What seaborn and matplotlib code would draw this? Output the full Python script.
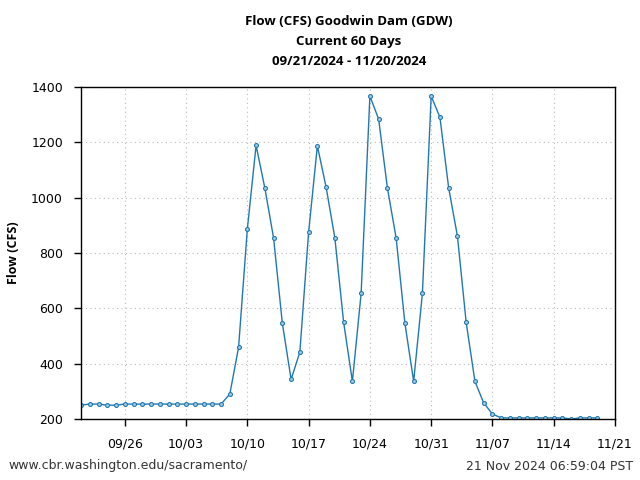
import matplotlib
matplotlib.use("Agg")
import matplotlib.pyplot as plt
import matplotlib.dates as mdates
import seaborn as sns
import pandas as pd
import numpy as np

start_date = "2024-09-21"
flow_cfs = [
    250, 254, 254, 250, 250, 254, 254, 254, 254, 254,
    254, 254, 254, 254, 254, 254, 254, 290, 459, 886,
    1189, 1035, 854, 546, 343, 442, 875, 1187, 1038, 854,
    550, 336, 654, 1367, 1284, 1035, 854, 546, 336, 654,
    1367, 1291, 1035, 861, 549, 336, 258, 218, 204, 204,
    204, 204, 204, 204, 204, 204, 200, 204, 204, 204,
]
dates = pd.date_range(start_date, periods=len(flow_cfs), freq="D")
df = pd.DataFrame({"date": dates, "flow": flow_cfs})

tick_dates = pd.to_datetime(["2024-09-26", "2024-10-03", "2024-10-10", "2024-10-17",
                             "2024-10-24", "2024-10-31", "2024-11-07", "2024-11-14", "2024-11-21"])
y_ticks = [200, 400, 600, 800, 1000, 1200, 1400]

sns.set_style("white")
plt.rcParams['font.family'] = ['DejaVu Sans']
plt.rcParams['text.color'] = 'black'
plt.rcParams['axes.labelcolor'] = 'black'

fig = plt.figure(figsize=(6.4, 4.8), dpi=100)
ax = fig.add_axes([81/640, 1-419/480, (615-81)/640, (419-87)/480])

line_color = "#1f78b4"
sns.lineplot(data=df, x="date", y="flow", ax=ax, color=line_color, linewidth=1.0,
             marker="o", markersize=2.8, markerfacecolor="#a6cee3",
             markeredgecolor=line_color, markeredgewidth=0.8)

ax.set_xlim(pd.Timestamp("2024-09-21"), pd.Timestamp("2024-11-21"))
ax.set_ylim(200, 1400)
ax.set_xticks(tick_dates)
ax.xaxis.set_major_formatter(mdates.DateFormatter("%m/%d"))
ax.set_yticks(y_ticks)
ax.tick_params(axis="both", labelsize=9, length=5, width=1, direction="out",
               colors="black", bottom=True, left=True, pad=8)
ax.grid(True, linestyle=(0, (1, 3)), color="#bbbbbb", linewidth=0.8)
for s in ax.spines.values():
    s.set_color("black")
    s.set_linewidth(1.0)

ax.set_xlabel("")
ax.set_ylabel("Flow (CFS)", fontsize=9, fontweight="bold", family="Open Sans",
              labelpad=8, color="black")

fig.text(0.545, 1-15/480, "Flow (CFS) Goodwin Dam (GDW)\nCurrent 60 Days\n09/21/2024 - 11/20/2024",
         ha="center", va="top", fontsize=9.5, fontweight="bold", family="Open Sans",
         linespacing=1.72, color="black")

fig.text(8/640, 1-466/480, "www.cbr.washington.edu/sacramento/", ha="left", va="center",
         fontsize=9, color="#333333")
fig.text(633/640, 1-466/480, "21 Nov 2024 06:59:04 PST", ha="right", va="center",
         fontsize=9, color="#333333")

fig.savefig("out.png", dpi=100)
